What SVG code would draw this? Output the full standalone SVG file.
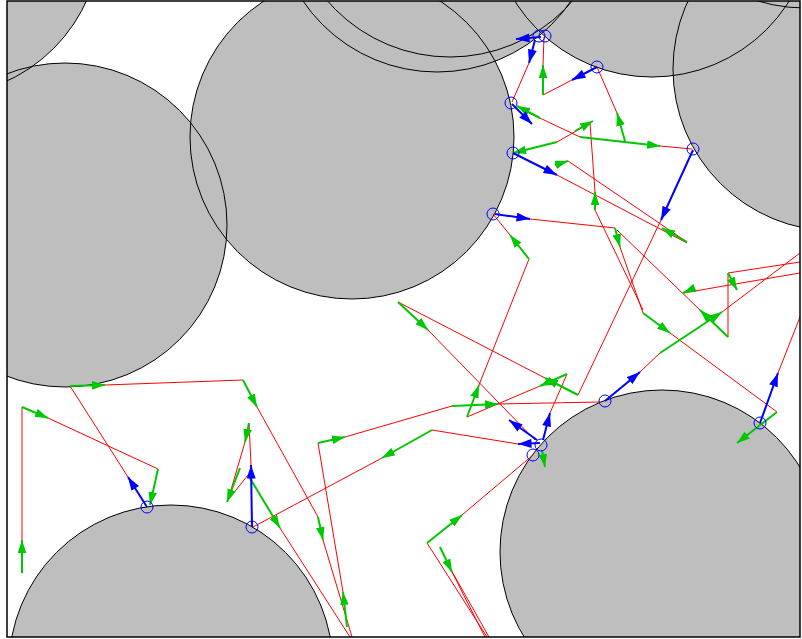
<svg xmlns="http://www.w3.org/2000/svg" width="802" height="639" viewBox="0 0 802 639">
<defs>
<clipPath id="frame"><rect x="7" y="1" width="793" height="636"/></clipPath>
<marker id="ag" viewBox="0 0 12 8" refX="12" refY="4" markerWidth="13" markerHeight="9" markerUnits="userSpaceOnUse" orient="auto"><path d="M0,0 L12,4 L0,8 z" fill="#00c800"/></marker>
<marker id="ab" viewBox="0 0 12 8" refX="12" refY="4" markerWidth="14" markerHeight="9" markerUnits="userSpaceOnUse" orient="auto"><path d="M0,0 L12,4 L0,8 z" fill="#0000ff"/></marker>
</defs>
<style>
.disk{fill:#bebebe;stroke:none}
.rim{fill:none;stroke:#000;stroke-width:1}
.r{fill:none;stroke:#ff0000;stroke-width:1}
.g{fill:none;stroke:#00c800;stroke-width:2;marker-end:url(#ag)}
.b{fill:none;stroke:#0000ff;stroke-width:2;marker-end:url(#ab)}
.c{fill:none;stroke:#0000ff;stroke-width:1}
</style>
<rect width="802" height="639" fill="#fff"/>
<g id="disks" clip-path="url(#frame)">
<g class="disk">
<circle cx="-61" cy="-66" r="162"/>
<circle cx="65" cy="225" r="162"/>
<circle cx="352" cy="137" r="162"/>
<circle cx="437" cy="-90" r="162"/>
<circle cx="450" cy="-105" r="162"/>
<circle cx="652" cy="-85" r="162"/>
<circle cx="835" cy="69" r="162"/>
<circle cx="805" cy="-154" r="162"/>
<circle cx="171" cy="667" r="162"/>
<circle cx="662" cy="552" r="162"/>
</g>
<g class="rim">
<circle cx="-61" cy="-66" r="162"/>
<circle cx="65" cy="225" r="162"/>
<circle cx="352" cy="137" r="162"/>
<circle cx="437" cy="-90" r="162"/>
<circle cx="450" cy="-105" r="162"/>
<circle cx="652" cy="-85" r="162"/>
<circle cx="835" cy="69" r="162"/>
<circle cx="805" cy="-154" r="162"/>
<circle cx="171" cy="667" r="162"/>
<circle cx="662" cy="552" r="162"/>
</g>
</g>
<g id="paths" clip-path="url(#frame)">
<g class="r">
<path d="M22,540 L22,407"/>
<path d="M48,418 L158,469"/>
<path d="M128,477 L70,386"/>
<path d="M105,385 L243,380"/>
<path d="M257,407 L318,517"/>
<path d="M323,540 L352,637"/>
<path d="M343,592 L318,443"/>
<path d="M345,437 L452,406"/>
<path d="M498,404 L600,402"/>
<path d="M640,372 L660,353"/>
<path d="M722,312 L800,253"/>
<path d="M251,465 L249,423"/>
<path d="M245,442 L228,500 L248,475"/>
<path d="M280,528 L350,637"/>
<path d="M382,458 L253,527"/>
<path d="M518,444 L432,430"/>
<path d="M427,543 L487,637"/>
<path d="M462,515 L533,455"/>
<path d="M452,572 L485,637"/>
<path d="M450,568 L489,637"/>
<path d="M550,413 L567,374"/>
<path d="M540,386 L467,417"/>
<path d="M479,385 L529,259"/>
<path d="M510,235 L493,214"/>
<path d="M530,219 L615,228"/>
<path d="M620,247 L643,313"/>
<path d="M670,333 L777,412"/>
<path d="M778,373 L800,317"/>
<path d="M661,220 L578,395"/>
<path d="M545,378 L398,302"/>
<path d="M428,330 L535,440"/>
<path d="M529,63 L512,102"/>
<path d="M544,37 L543,65"/>
<path d="M543,95 L572,80"/>
<path d="M597,67 L617,113"/>
<path d="M660,146 L692,149"/>
<path d="M527,112 L580,137"/>
<path d="M557,142 L590,123 L595,192"/>
<path d="M595,210 L643,310"/>
<path d="M557,175 L687,243"/>
<path d="M568,161 L687,242"/>
<path d="M700,310 L617,230"/>
<path d="M728,273 L800,262"/>
<path d="M728,273 L728,337"/>
<path d="M683,293 L800,273"/>
</g>
<g class="g">
<path d="M22,573 L22,540"/>
<path d="M22,407 L48,418"/>
<path d="M158,469 L150,505"/>
<path d="M70,386 L105,385"/>
<path d="M243,380 L257,407"/>
<path d="M318,517 L323,540"/>
<path d="M347,627 L343,592"/>
<path d="M318,443 L345,437"/>
<path d="M452,406 L498,404"/>
<path d="M660,353 L722,312"/>
<path d="M643,313 L670,333"/>
<path d="M777,412 L737,443"/>
<path d="M615,228 L620,247"/>
<path d="M529,259 L510,235"/>
<path d="M467,417 L479,385"/>
<path d="M567,374 L540,386"/>
<path d="M578,395 L545,378"/>
<path d="M398,302 L428,330"/>
<path d="M432,430 L382,458"/>
<path d="M249,423 L245,442"/>
<path d="M248,475 L280,528"/>
<path d="M240,468 L227,502"/>
<path d="M427,543 L462,515"/>
<path d="M440,547 L452,572"/>
<path d="M542,450 L545,467"/>
<path d="M543,95 L543,65"/>
<path d="M625,141 L617,113"/>
<path d="M580,137 L660,146"/>
<path d="M557,142 L513,153"/>
<path d="M575,131 L593,121"/>
<path d="M595,210 L595,192"/>
<path d="M555,165 L568,161"/>
<path d="M687,242 L662,228"/>
<path d="M728,273 L737,290"/>
<path d="M690,290 L683,293"/>
<path d="M728,337 L700,310"/>
<path d="M540,118 L517,106"/>
</g>
<g class="b">
<path d="M541,37 L516,39"/>
<path d="M535,40 L529,63"/>
<path d="M512,104 L532,124"/>
<path d="M513,153 L557,175"/>
<path d="M495,214 L530,219"/>
<path d="M597,67 L572,80"/>
<path d="M693,150 L661,220"/>
<path d="M605,401 L640,372"/>
<path d="M760,423 L778,373"/>
<path d="M147,507 L128,477"/>
<path d="M252,527 L251,465"/>
<path d="M540,443 L518,444"/>
<path d="M537,440 L509,420"/>
<path d="M543,440 L550,413"/>
</g>
<g class="c">
<circle cx="539" cy="36" r="6"/>
<circle cx="545" cy="36" r="6"/>
<circle cx="511" cy="103" r="6"/>
<circle cx="513" cy="153" r="6"/>
<circle cx="493" cy="214" r="6"/>
<circle cx="597" cy="67" r="6"/>
<circle cx="693" cy="149" r="6"/>
<circle cx="605" cy="401" r="6"/>
<circle cx="541" cy="445" r="6"/>
<circle cx="533" cy="455" r="6"/>
<circle cx="760" cy="423" r="6"/>
<circle cx="147" cy="507" r="6"/>
<circle cx="252" cy="527" r="6"/>
</g>
</g>
<rect x="7" y="1" width="793" height="636" fill="none" stroke="#000" stroke-width="1.5"/>
</svg>
